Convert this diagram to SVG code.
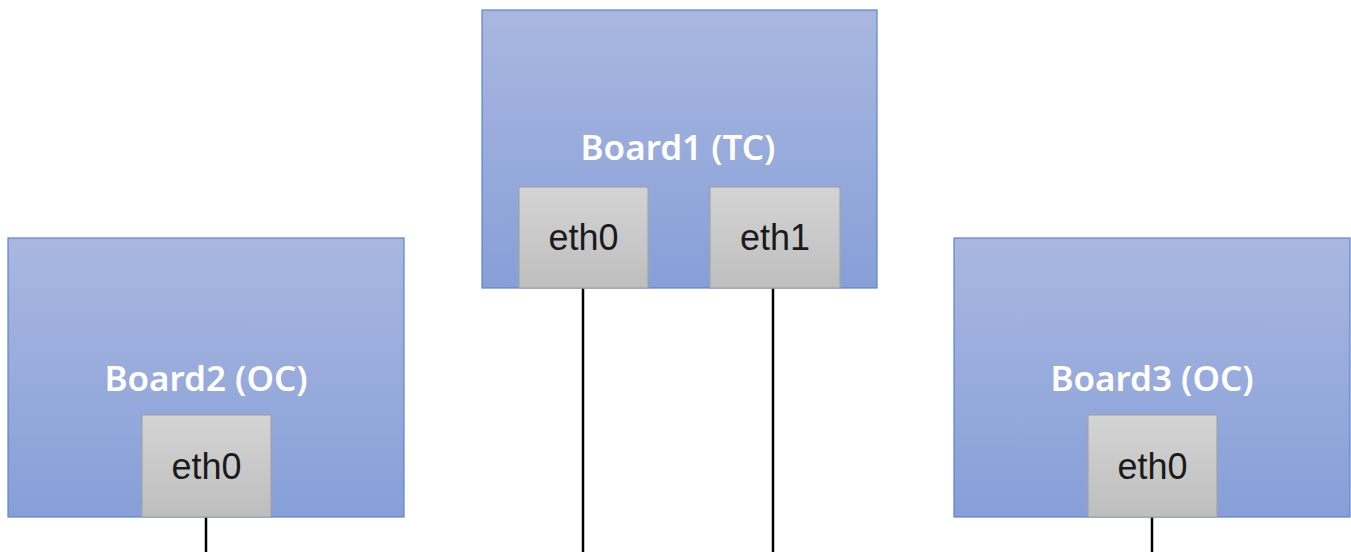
<svg xmlns="http://www.w3.org/2000/svg" width="1351" height="552" viewBox="0 0 1351 552">
<defs>
<linearGradient id="gBoard" x1="0" y1="0" x2="0" y2="1">
<stop offset="0" stop-color="#A9B7E0"/>
<stop offset="1" stop-color="#879FD8"/>
</linearGradient>
<linearGradient id="gPort" x1="0" y1="0" x2="0" y2="1">
<stop offset="0" stop-color="#D4D4D4"/>
<stop offset="1" stop-color="#BEBEBE"/>
</linearGradient>
<style>
.board{fill:url(#gBoard);stroke:#5B84D0;stroke-width:1.2}
.port{fill:url(#gPort);stroke:#A3A3A3;stroke-width:1.2}
.blabel{font-family:"Noto Sans","Liberation Sans",sans-serif;font-size:35px;font-weight:600;fill:#FFFFFF;text-anchor:middle}
.plabel{font-family:"Liberation Sans",Arial,sans-serif;font-size:36px;fill:#1A1A1A;text-anchor:middle}
.wire{stroke:#000000;stroke-width:2.5;fill:none}
</style>
</defs>
<rect width="1351" height="552" fill="#FFFFFF"/>
<g id="connectors">
<line class="wire" x1="583" y1="288" x2="583" y2="552"/>
<line class="wire" x1="773" y1="288" x2="773" y2="552"/>
<line class="wire" x1="206" y1="517" x2="206" y2="552"/>
<line class="wire" x1="1152" y1="517" x2="1152" y2="552"/>
</g>
<g id="board1">
<rect class="board" x="482" y="10" width="395" height="278"/>
<text class="blabel" x="678" y="160">Board1 (TC)</text>
<g id="board1-eth0">
<rect class="port" x="519" y="187" width="129" height="101"/>
<text class="plabel" x="583.5" y="250">eth0</text>
</g>
<g id="board1-eth1">
<rect class="port" x="710" y="187" width="130" height="101"/>
<text class="plabel" x="775" y="250">eth1</text>
</g>
</g>
<g id="board2">
<rect class="board" x="8" y="238" width="396" height="279"/>
<text class="blabel" x="206" y="391">Board2 (OC)</text>
<g id="board2-eth0">
<rect class="port" x="142" y="415" width="129" height="102"/>
<text class="plabel" x="206.5" y="479">eth0</text>
</g>
</g>
<g id="board3">
<rect class="board" x="954" y="238" width="396" height="279"/>
<text class="blabel" x="1152" y="391">Board3 (OC)</text>
<g id="board3-eth0">
<rect class="port" x="1088" y="415" width="129" height="102"/>
<text class="plabel" x="1152.5" y="479">eth0</text>
</g>
</g>
</svg>
